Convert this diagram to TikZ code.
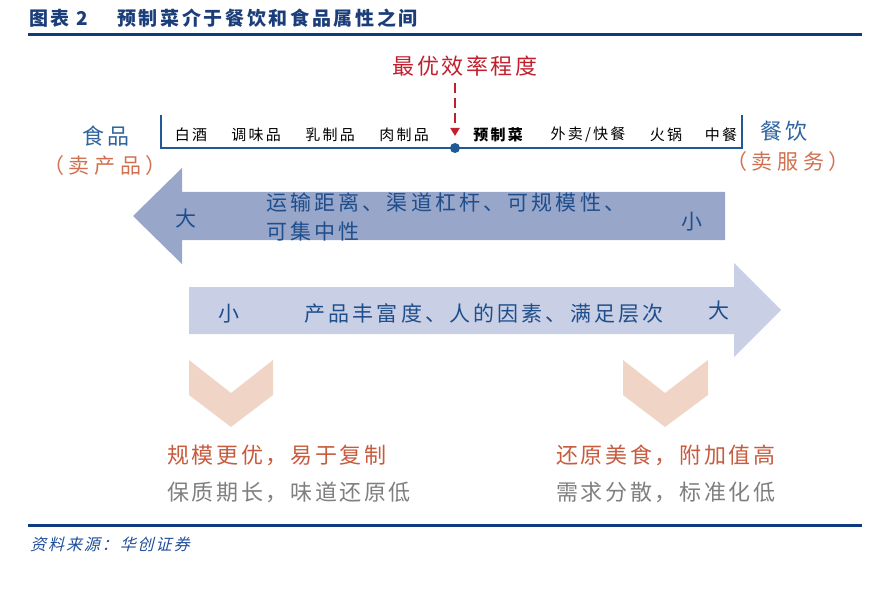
\documentclass[tikz,border=0pt]{standalone}
\usepackage{fontspec}
\setmainfont{Noto Sans CJK SC}
\newfontfamily\lsA[LetterSpace=14]{Noto Sans CJK SC}
\newfontfamily\lsB[LetterSpace=12]{Noto Sans CJK SC}
\newfontfamily\lsC[LetterSpace=15]{Noto Sans CJK SC}
\newfontfamily\lsP[LetterSpace=22]{Noto Sans CJK SC}
\newfontfamily\lsIt[LetterSpace=12,FakeSlant=0.25]{Noto Sans CJK SC}
\usetikzlibrary{arrows.meta}
\definecolor{titleblue}{HTML}{1B3D7A}
\definecolor{ruleblue}{HTML}{0D3B7E}
\definecolor{axisblue}{HTML}{1F5A96}
\definecolor{effred}{HTML}{C0202E}
\definecolor{catblue}{HTML}{2E64A0}
\definecolor{paren}{HTML}{D0704E}
\definecolor{arrowA}{HTML}{98A6C9}
\definecolor{arrowB}{HTML}{C9D0E5}
\definecolor{arrtext}{HTML}{1F4E8C}
\definecolor{chev}{HTML}{F0D4C6}
\definecolor{orangetxt}{HTML}{C65B3E}
\definecolor{graytxt}{HTML}{7F7F7F}
\definecolor{srcblue}{HTML}{1F4E9A}
\tikzset{
  toplabel/.style={inner sep=0pt, font=\fontsize{15}{15}\selectfont\lsC, text=black},
  cat/.style={inner sep=0pt, font=\fontsize{22}{22}\selectfont\lsB, text=catblue},
  par/.style={inner sep=0pt, font=\fontsize{21}{21}\selectfont\lsP, text=paren},
  arrtxt/.style={inner sep=0pt, font=\fontsize{21}{21}\selectfont\lsC, text=arrtext},
  bottxt/.style={inner sep=0pt, font=\fontsize{22}{22}\selectfont\lsB, anchor=west},
  hrule/.style={line width=3pt, ruleblue},
  axis/.style={line width=2pt, axisblue},
}
\begin{document}
\begin{tikzpicture}[x=1pt,y=-1pt]
\useasboundingbox (0,0) rectangle (888,604);
% title
\node[inner sep=0pt, anchor=west, font=\fontsize{19}{19}\selectfont\lsA\bfseries, text=titleblue] (t1) at (29,18) {图表 2};
\node[inner sep=0pt, anchor=west, font=\fontsize{19}{19}\selectfont\lsA\bfseries, text=titleblue] (t2) at (117,18) {预制菜介于餐饮和食品属性之间};
\coordinate (r1a) at (28,35); \coordinate (r1b) at (862,35);
\draw[hrule] (r1a) -- (r1b);
% efficiency label
\node[inner sep=0pt, font=\fontsize{22}{22}\selectfont\lsB, text=effred] (eff) at (465,66) {最优效率程度};
% axis
\coordinate (La) at (161,115); \coordinate (Lb) at (161,148);
\coordinate (Rb) at (742,148); \coordinate (Ra) at (742,115);
\draw[axis] (La) -- (Lb) -- (Rb) -- (Ra);
\node[circle, fill=axisblue, inner sep=0pt, minimum size=10pt] (dot) at (455,148) {};
\coordinate (dtop) at (455,83);
\draw[effred, line width=2.5pt, dash pattern=on 10pt off 5pt, -{Triangle[length=8pt,width=9pt]}, shorten >=12pt] (dtop) -- (dot.center);
% top labels
\node[toplabel] (l1) at (191,135) {白酒};
\node[toplabel] (l2) at (256,135) {调味品};
\node[toplabel] (l3) at (330,135) {乳制品};
\node[toplabel] (l4) at (404,135) {肉制品};
\node[toplabel, font=\fontsize{15}{15}\selectfont\lsC\bfseries] (l5) at (498,135) {预制菜};
\node[toplabel] (l6) at (588,135) {外卖/快餐};
\node[toplabel] (l7) at (666,135) {火锅};
\node[toplabel] (l8) at (721,135) {中餐};
% categories
\node[cat] (food) at (106,136) {食品};
\node[par] (foodp) at (105,166) {（卖产品）};
\node[cat] (rest) at (784,131) {餐饮};
\node[par] (restp) at (788,162) {（卖服务）};
% left arrow
\fill[arrowA] (133,216) -- (182,168) -- (182,192) -- (725,192) -- (725,240) -- (182,240) -- (182,264) -- cycle;
\node[arrtxt] (big1) at (186,219) {大};
\node[arrtxt] (small1) at (692,222) {小};
\node[arrtxt, anchor=west] (a1) at (266,202) {运输距离、渠道杠杆、可规模性、};
\node[arrtxt, anchor=west] (a2) at (266,231) {可集中性};
% right arrow
\fill[arrowB] (781,310) -- (734,263) -- (734,287) -- (189,287) -- (189,334) -- (734,334) -- (734,357) -- cycle;
\node[arrtxt] (small2) at (229,314) {小};
\node[arrtxt] (b1) at (484,314) {产品丰富度、人的因素、满足层次};
\node[arrtxt] (big2) at (719,311) {大};
% chevrons
\fill[chev] (189,360) -- (231,393) -- (273,360) -- (273,395) -- (231,427) -- (189,395) -- cycle;
\fill[chev] (623,360) -- (665,393) -- (708,360) -- (708,395) -- (665,427) -- (623,395) -- cycle;
% bottom texts
\node[bottxt, text=orangetxt] (c1) at (167,455) {规模更优，易于复制};
\node[bottxt, text=graytxt] (c2) at (167,492) {保质期长，味道还原低};
\node[bottxt, text=orangetxt] (d1) at (556,455) {还原美食，附加值高};
\node[bottxt, text=graytxt] (d2) at (556,492) {需求分散，标准化低};
% bottom rule and source
\coordinate (r2a) at (28,525); \coordinate (r2b) at (862,525);
\draw[hrule] (r2a) -- (r2b);
\node[inner sep=0pt, anchor=west, font=\fontsize{16}{16}\selectfont\lsIt, text=srcblue] (src) at (30,544) {资料来源：华创证券};
\end{tikzpicture}
\end{document}
